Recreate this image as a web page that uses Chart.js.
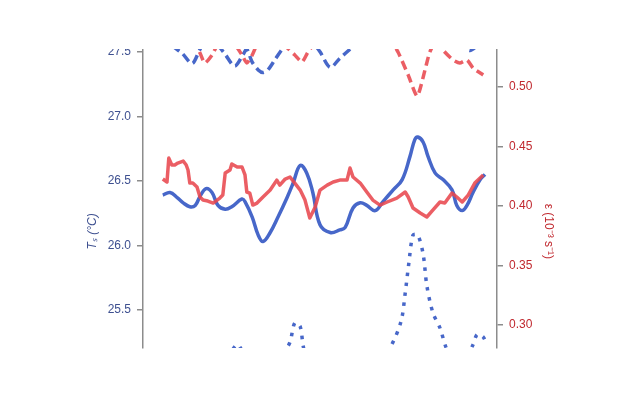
<!DOCTYPE html>
<html>
<head>
<meta charset="utf-8">
<script src="https://cdn.jsdelivr.net/npm/chart.js@4/dist/chart.umd.min.js"></script>
<style>
  html, body { margin: 0; padding: 0; background: #fff; }
  #wrap { width: 640px; height: 400px; }
</style>
</head>
<body>
<div id="wrap"><canvas id="chartTs" width="640" height="400"></canvas></div>
<script>
// time axis (days), one list per series
const tsSolidDays = [3.3, 4.5, 5.7, 6.7, 7.8, 8.7, 9.5, 10.5, 11.5, 12.5, 13.7, 14.8, 16.5, 17.0, 18.2, 19.2, 20.0, 21.2, 22.5, 24.0, 25.0, 26.2, 27.3, 28.3, 29.5, 31.2, 32.8, 33.7, 35.0, 36.2, 37.3, 38.7, 40.0, 41.7, 43.2, 44.5, 45.3, 45.8, 46.7, 47.5, 48.7, 50.0, 51.5, 52.3, 53.2, 54.0, 55.0, 56.2, 57.0];
const tsSolid = [26.39, 26.41, 26.37, 26.33, 26.30, 26.31, 26.38, 26.44, 26.41, 26.31, 26.28, 26.30, 26.36, 26.34, 26.22, 26.08, 26.03, 26.10, 26.22, 26.37, 26.48, 26.62, 26.56, 26.41, 26.16, 26.10, 26.12, 26.14, 26.29, 26.33, 26.31, 26.27, 26.34, 26.43, 26.51, 26.69, 26.82, 26.84, 26.80, 26.69, 26.56, 26.51, 26.43, 26.31, 26.27, 26.31, 26.41, 26.51, 26.55];

const tsDashedDays = [3.3, 4.8, 6.5, 8.2, 9.5, 10.8, 12.5, 13.7, 15.3, 16.7, 17.3, 18.2, 19.2, 20.0, 20.8, 22.0, 23.2, 24.5, 26.2, 28.2, 29.5, 31.2, 32.8, 34.5, 36.2, 39.5, 42.8, 46.2, 50.3, 53.2, 54.5, 55.8, 57.3];
const tsDashed = [27.63, 27.55, 27.49, 27.41, 27.52, 27.61, 27.55, 27.48, 27.39, 27.48, 27.52, 27.42, 27.36, 27.34, 27.36, 27.44, 27.52, 27.59, 27.63, 27.58, 27.50, 27.38, 27.45, 27.52, 27.59, 27.67, 27.71, 27.67, 27.61, 27.55, 27.51, 27.55, 27.59];

const tsDottedDays = [3.3, 9.5, 13.7, 15.7, 17.0, 20.3, 23.7, 24.5, 25.3, 26.2, 26.7, 27.8, 32.8, 37.8, 41.2, 43.0, 43.7, 44.3, 45.0, 45.8, 46.7, 47.3, 48.3, 49.5, 50.5, 52.0, 53.7, 55.0, 55.7, 56.7, 57.3];
const tsDotted = [24.96, 25.00, 25.11, 25.23, 25.15, 25.03, 25.19, 25.25, 25.40, 25.37, 25.22, 25.03, 24.92, 25.00, 25.21, 25.41, 25.63, 25.86, 26.08, 26.08, 25.93, 25.69, 25.48, 25.36, 25.21, 25.07, 25.11, 25.23, 25.31, 25.29, 25.23];

const epsSolidDays = [3.3, 4.0, 4.3, 4.8, 5.3, 5.8, 6.7, 7.2, 7.5, 7.8, 8.3, 9.0, 9.5, 10.0, 10.8, 11.7, 12.8, 13.3, 13.7, 14.5, 14.8, 15.7, 16.5, 17.0, 17.3, 17.8, 18.3, 19.0, 20.0, 21.2, 22.3, 22.8, 23.7, 24.5, 25.3, 26.2, 27.0, 27.8, 28.7, 29.5, 30.7, 31.7, 32.8, 34.0, 34.5, 35.0, 36.2, 37.3, 38.3, 39.5, 40.7, 42.3, 43.7, 44.2, 45.0, 46.2, 47.3, 48.3, 49.5, 50.3, 51.5, 52.3, 53.2, 54.2, 55.3, 56.7];
const epsSolid = [0.4227, 0.4202, 0.4403, 0.4345, 0.4345, 0.4361, 0.4378, 0.4345, 0.4303, 0.4193, 0.4193, 0.4160, 0.4076, 0.4050, 0.4042, 0.4025, 0.4067, 0.4092, 0.4277, 0.4303, 0.4353, 0.4328, 0.4328, 0.4261, 0.4118, 0.4109, 0.4008, 0.4025, 0.4076, 0.4134, 0.4218, 0.4176, 0.4227, 0.4244, 0.4193, 0.4134, 0.4050, 0.3899, 0.3992, 0.4134, 0.4176, 0.4202, 0.4218, 0.4218, 0.4319, 0.4244, 0.4193, 0.4118, 0.4050, 0.4008, 0.4034, 0.4067, 0.4118, 0.4076, 0.3983, 0.3941, 0.3908, 0.3966, 0.4034, 0.4025, 0.4109, 0.4076, 0.4034, 0.4092, 0.4193, 0.4261];

const epsDashedDays = [3.3, 6.2, 8.7, 9.5, 10.3, 11.5, 12.8, 15.3, 16.5, 17.3, 18.2, 19.5, 22.8, 25.3, 26.5, 27.5, 29.5, 36.2, 41.2, 42.5, 44.2, 45.7, 47.0, 47.8, 49.0, 50.0, 51.7, 52.8, 54.0, 55.0, 56.7];
const epsDashed = [0.5437, 0.5395, 0.5353, 0.5286, 0.5202, 0.5269, 0.5378, 0.5353, 0.5269, 0.5202, 0.5269, 0.5395, 0.5378, 0.5269, 0.5210, 0.5294, 0.5412, 0.5479, 0.5395, 0.5294, 0.5101, 0.4924, 0.5143, 0.5294, 0.5395, 0.5311, 0.5227, 0.5202, 0.5227, 0.5160, 0.5101];

const tsTicks = [25.5, 26.0, 26.5, 27.0, 27.5];
const epsTicks = [0.30, 0.35, 0.40, 0.45, 0.50];

const BLUE = '#4767c9';
const RED = 'rgba(232, 72, 78, 0.88)';
const AXIS_GREY = '#8c8c8c';
const FONT = '"Liberation Sans", Arial, sans-serif';

const toPoints = (days, values) => days.map((d, i) => ({ x: d, y: values[i] }));

// titles sit lower than the axis centre in the reference; pad with spaces
const pad = ' '.repeat(20);

// the reference is cropped just above the plot, so blank that strip
const cropTop = {
    id: 'cropTop',
    afterDraw(chart) {
        const ctx = chart.ctx;
        ctx.save();
        ctx.fillStyle = '#fff';
        ctx.fillRect(0, 0, chart.width, 49);
        ctx.restore();
    },
};

new Chart(document.getElementById('chartTs'), {
    type: 'line',
    data: {
        datasets: [
            {
                label: 'eps',
                data: toPoints(epsSolidDays, epsSolid),
                yAxisID: 'yEps',
                borderColor: RED,
                borderWidth: 3.5,
                tension: 0,
                order: 1,
            },
            {
                label: 'eps dashed',
                data: toPoints(epsDashedDays, epsDashed),
                yAxisID: 'yEps',
                borderColor: RED,
                borderWidth: 3.5,
                borderDash: [9, 5],
                tension: 0.2,
                order: 2,
            },
            {
                label: 'Ts',
                data: toPoints(tsSolidDays, tsSolid),
                yAxisID: 'yTs',
                borderColor: BLUE,
                borderWidth: 3.5,
                tension: 0.4,
                order: 3,
            },
            {
                label: 'Ts dashed',
                data: toPoints(tsDashedDays, tsDashed),
                yAxisID: 'yTs',
                borderColor: BLUE,
                borderWidth: 3.5,
                borderDash: [9, 5],
                tension: 0.3,
                order: 4,
            },
            {
                label: 'Ts dotted',
                data: toPoints(tsDottedDays, tsDotted),
                yAxisID: 'yTs',
                borderColor: BLUE,
                borderWidth: 3.5,
                borderDash: [3.5, 6.5],
                tension: 0.3,
                order: 5,
            },
        ],
    },
    options: {
        responsive: false,
        animation: false,
        events: [],
        layout: {
            padding: { top: 48, bottom: 52, left: 80, right: 80 },
        },
        elements: {
            point: { radius: 0 },
            line: { borderCapStyle: 'butt', borderJoinStyle: 'round' },
        },
        plugins: {
            legend: { display: false },
            tooltip: { enabled: false },
        },
        scales: {
            x: {
                type: 'linear',
                display: false,
                min: 0,
                max: 59,
            },
            yTs: {
                position: 'left',
                min: 25.205,
                max: 27.53,
                afterFit: (scale) => { scale.width = 63; },
                afterBuildTicks: (scale) => {
                    scale.ticks = tsTicks.map((v) => ({ value: v }));
                },
                border: { display: true, color: AXIS_GREY, width: 1.5 },
                grid: { drawOnChartArea: false, drawTicks: true, tickLength: 6, color: AXIS_GREY, lineWidth: 1.5 },
                ticks: {
                    padding: 6,
                    color: '#3e5090',
                    font: { family: FONT, size: 12 },
                    callback: (v) => Number(v).toFixed(1),
                },
                title: {
                    display: true,
                    text: 'Tₛ (°C)' + pad,
                    color: '#3e5090',
                    padding: { top: 5, bottom: 0 },
                    font: { family: FONT, size: 12, style: 'italic' },
                },
            },
            yEps: {
                position: 'right',
                min: 0.2807,
                max: 0.5328,
                afterFit: (scale) => { scale.width = 63; },
                afterBuildTicks: (scale) => {
                    scale.ticks = epsTicks.map((v) => ({ value: v }));
                },
                border: { display: true, color: AXIS_GREY, width: 1.5 },
                grid: { drawOnChartArea: false, drawTicks: true, tickLength: 6, color: AXIS_GREY, lineWidth: 1.5 },
                ticks: {
                    padding: 6,
                    color: '#c0282e',
                    font: { family: FONT, size: 12 },
                    callback: (v) => Number(v).toFixed(2),
                },
                title: {
                    display: true,
                    text: pad + 'ε (10⁻³ s⁻¹)',
                    color: '#c0282e',
                    padding: { top: 4, bottom: 0 },
                    font: { family: FONT, size: 12 },
                },
            },
        },
    },
    plugins: [cropTop],
});
</script>
</body>
</html>
